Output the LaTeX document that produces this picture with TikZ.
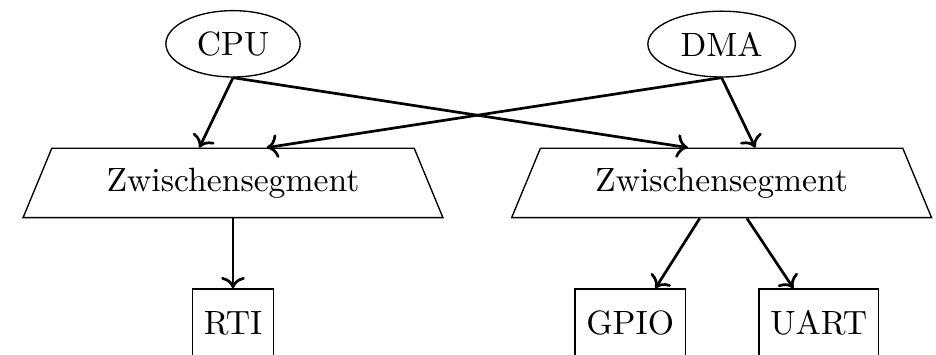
\documentclass[tikz,border=0pt]{standalone}
\usetikzlibrary{shapes.geometric, arrows.meta, positioning}
\tikzset{
    master/.style={draw, ellipse},
    seg/.style={draw, trapezium, trapezium left angle=67.5, trapezium right angle=67.5, trapezium stretches body, inner ysep=5.8pt, minimum width=124.7pt},
    unit/.style={draw, minimum height=0.71cm},
    arrow/.style={->, thick}
}

\begin{document}
\begin{tikzpicture}[node distance=0.73cm]
        \useasboundingbox (0,0) rectangle (9.77,3.70);
        \node [seg] (seg1) at (2.432,1.790) {Zwischensegment};
        \node [seg] (seg2) at (7.532,1.790) {Zwischensegment};
        \node [master, above=of seg1] (cpu) {CPU};
        \node [master, above=of seg2] (dma) {DMA};
        \node [unit, below=of seg1] (rti) {RTI};
        \node [unit, below=of seg2, xshift=-0.955cm] (gpio) {GPIO};
        \node [unit, below=of seg2, xshift=1.013cm] (uart) {UART};
        \draw [arrow] (cpu.south) -- ([xshift=-10pt]seg1.north);
        \draw [arrow] (cpu.south) -- ([xshift=-10pt]seg2.north);
        \draw [arrow] (dma.south) -- ([xshift=10pt]seg1.north);
        \draw [arrow] (dma.south) -- ([xshift=10pt]seg2.north);
        \draw [arrow] (seg1.south) -- (rti.north);
        \draw [arrow] ([xshift=-6.5pt]seg2.south) -- ([xshift=7.5pt]gpio.north);
        \draw [arrow] ([xshift=7.5pt]seg2.south) -- ([xshift=-7.5pt]uart.north);
    \end{tikzpicture}
\end{document}
